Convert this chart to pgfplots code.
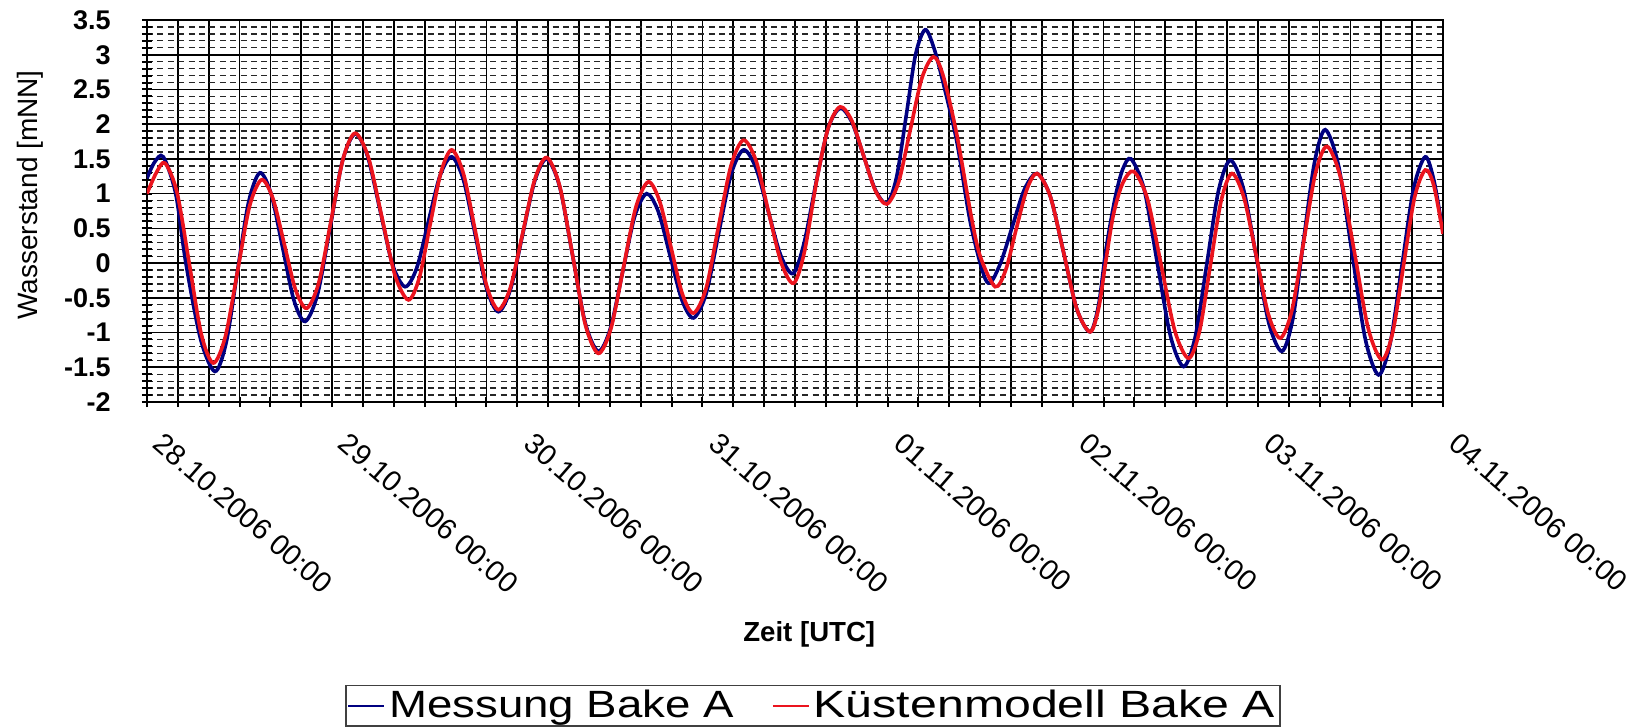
\documentclass[border=0pt]{standalone}
\usepackage{fontspec}
\setmainfont{Liberation Sans}
\usepackage{graphicx}
\usepackage{pgfplots}
\usepackage{pgfplotstable}
\pgfplotsset{compat=1.18}
\definecolor{mblue}{RGB}{0,0,128}
\definecolor{mred}{RGB}{235,20,30}

\pgfplotstableread{
t v
0.000 1.22
0.040 1.45
0.088 1.53
0.155 1.00
0.210 0.00
0.290 -1.10
0.367 -1.56
0.428 -1.14
0.488 -0.13
0.549 0.88
0.610 1.30
0.671 0.99
0.732 0.23
0.793 -0.53
0.854 -0.84
0.921 -0.45
0.989 0.51
1.056 1.47
1.124 1.86
1.191 1.54
1.259 0.76
1.326 -0.02
1.394 -0.34
1.457 -0.07
1.520 0.60
1.583 1.26
1.646 1.53
1.709 1.20
1.772 0.42
1.835 -0.37
1.898 -0.70
1.963 -0.38
2.028 0.40
2.094 1.18
2.159 1.50
2.229 1.10
2.298 0.12
2.368 -0.87
2.438 -1.27
2.503 -0.94
2.568 -0.14
2.634 0.67
2.699 1.00
2.762 0.74
2.826 0.10
2.889 -0.53
2.952 -0.79
3.020 -0.44
3.087 0.42
3.155 1.28
3.222 1.63
3.289 1.37
3.356 0.74
3.423 0.11
3.490 -0.15
3.550 0.30
3.617 1.20
3.680 1.95
3.744 2.23
3.807 2.03
3.870 1.55
3.933 1.06
3.996 0.86
4.048 1.23
4.100 2.11
4.151 3.00
4.203 3.36
4.250 3.10
4.300 2.60
4.374 1.75
4.450 0.55
4.536 -0.27
4.604 -0.04
4.672 0.51
4.739 1.06
4.807 1.29
4.879 0.96
4.951 0.15
5.022 -0.66
5.094 -0.99
5.140 -0.60
5.180 0.20
5.230 0.95
5.270 1.35
5.315 1.50
5.386 1.06
5.457 0.00
5.528 -1.05
5.599 -1.49
5.662 -1.06
5.725 0.00
5.788 1.05
5.851 1.48
5.921 1.08
5.991 0.10
6.060 -0.87
6.130 -1.27
6.189 -0.80
6.247 0.33
6.306 1.45
6.364 1.92
6.436 1.40
6.508 0.16
6.580 -1.09
6.652 -1.61
6.715 -1.15
6.778 -0.04
6.841 1.07
6.904 1.53
6.950 1.20
6.990 0.60
}\messung

\pgfplotstableread{
t v
0.000 1.00
0.050 1.30
0.097 1.44
0.162 1.02
0.228 0.00
0.293 -1.02
0.358 -1.44
0.423 -1.06
0.489 -0.12
0.554 0.82
0.619 1.20
0.680 0.93
0.741 0.28
0.802 -0.38
0.863 -0.65
0.928 -0.28
0.994 0.61
1.059 1.50
1.124 1.87
1.196 1.52
1.268 0.67
1.340 -0.18
1.412 -0.53
1.471 -0.21
1.529 0.55
1.588 1.31
1.646 1.63
1.709 1.29
1.772 0.48
1.835 -0.33
1.898 -0.67
1.963 -0.35
2.029 0.43
2.094 1.20
2.159 1.52
2.229 1.11
2.299 0.11
2.368 -0.89
2.438 -1.30
2.506 -0.94
2.573 -0.07
2.641 0.81
2.708 1.17
2.769 0.89
2.830 0.23
2.891 -0.44
2.952 -0.72
3.020 -0.36
3.087 0.53
3.155 1.41
3.222 1.77
3.290 1.47
3.357 0.74
3.425 0.01
3.492 -0.29
3.550 0.15
3.618 1.20
3.680 1.95
3.744 2.25
3.807 2.05
3.870 1.55
3.933 1.05
3.996 0.85
4.059 1.16
4.122 1.91
4.185 2.66
4.248 2.97
4.300 2.70
4.374 1.85
4.450 0.70
4.500 0.10
4.581 -0.34
4.638 -0.10
4.694 0.48
4.751 1.05
4.807 1.29
4.879 0.96
4.951 0.15
5.022 -0.66
5.094 -0.99
5.140 -0.65
5.180 0.05
5.220 0.70
5.270 1.15
5.329 1.32
5.403 0.93
5.478 -0.03
5.552 -0.98
5.626 -1.37
5.685 -0.98
5.743 -0.04
5.802 0.90
5.860 1.29
5.925 0.94
5.991 0.11
6.056 -0.73
6.121 -1.08
6.184 -0.68
6.247 0.30
6.310 1.28
6.373 1.68
6.447 1.23
6.522 0.15
6.596 -0.94
6.670 -1.39
6.729 -0.99
6.787 -0.03
6.846 0.94
6.904 1.34
6.950 1.12
7.000 0.42
}\modell

\begin{document}
\begin{tikzpicture}
\useasboundingbox (-73.5pt,-163pt) rectangle (746pt,201pt);
\begin{axis}[
  scale only axis,
  width=648pt, height=191pt,
  xmin=0, xmax=168, ymin=-2, ymax=3.5,
  xtick={0,4,...,168},
  xticklabels={28.10.2006 00:00,,,,,,29.10.2006 00:00,,,,,,30.10.2006 00:00,,,,,,31.10.2006 00:00,,,,,,01.11.2006 00:00,,,,,,02.11.2006 00:00,,,,,,03.11.2006 00:00,,,,,,04.11.2006 00:00},
  ytick={-2,-1.5,...,3.5},
  yticklabels={-2,-1.5,-1,-0.5,0,0.5,1,1.5,2,2.5,3,3.5},
  minor y tick num=4,
  grid=both,
  major grid style={black, line width=0.8pt},
  minor grid style={black!85, line width=0.65pt, dash pattern=on 3pt off 2.2pt},
  axis line style={black, line width=1.4pt},
  tick pos=left,
  tick align=center,
  major tick length=5pt,
  minor tick length=5pt,
  every tick/.style={black, line width=1pt},
  yticklabel style={font=\bfseries\fontsize{13.5}{14}\selectfont, inner sep=0pt, xshift=-15.5pt},
  xticklabel style={font=\fontsize{14.5}{16}\selectfont, inner sep=0pt, xshift=9pt, yshift=-12pt, rotate=-41, anchor=north west},
  xlabel={Zeit [UTC]},
  xlabel style={at={(axis description cs:0.511,-0.607)}, anchor=center, font=\bfseries\fontsize{13.8}{15}\selectfont},
  ylabel={Wasserstand [mNN]},
  ylabel style={at={(axis description cs:-0.0903,0.542)}, anchor=center, font=\fontsize{14}{16}\selectfont},
  legend columns=2,
  legend style={at={(axis description cs:0.514,-0.795)}, anchor=center, draw=black!75, line width=0.8pt,
    font=\fontsize{19}{20}\selectfont, inner sep=0.5pt,
    /tikz/every even column/.append style={column sep=17pt}},
  legend image code/.code={\draw[#1, line width=1pt] (0pt,0pt) -- (18pt,0pt);},
]
\addplot[mblue, line width=1.8pt, smooth] table[x expr=\thisrow{t}*24, y=v] {\messung};
\addlegendentry{\scalebox{1.2}[1]{Messung Bake A}}
\addplot[mred, line width=1.8pt, smooth] table[x expr=\thisrow{t}*24, y=v] {\modell};
\addlegendentry{\scalebox{1.27}[1]{Küstenmodell Bake A}}
\end{axis}
\end{tikzpicture}
\end{document}
